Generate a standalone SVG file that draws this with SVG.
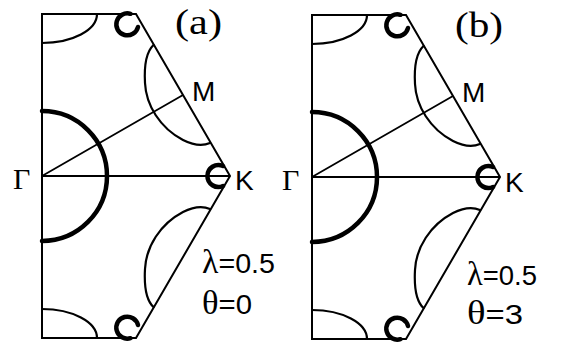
<svg xmlns="http://www.w3.org/2000/svg" width="568" height="350" viewBox="0 0 568 350">
<style>
.bz{fill:none;stroke:#000;stroke-width:2;stroke-linejoin:miter}
.ln{fill:none;stroke:#000;stroke-width:1.8}
.fs{fill:none;stroke:#000;stroke-width:2.2;stroke-linecap:round}
.fs2{fill:none;stroke:#000;stroke-width:4.5;stroke-linecap:round}
.sans{font-family:"Liberation Sans",Arial,sans-serif;font-size:28px;fill:#000}
.ser{font-family:"Liberation Serif","Times New Roman",serif;fill:#000}
.gr{font-size:33px}
</style>
<defs>
<g id="half">
<path class="fs" d="M153.5,45 C146,52 144,65 145,83 C146,105 160,128 183,140 C193,145 203,146 210,143"/>
<path class="fs" d="M42,43 A55,29 0 0 0 97,14"/>
<path class="fs2" d="M130.5,13.8 A11,11 0 1 0 138,27"/>
</g>
<g id="panel">
<path class="bz" d="M42,14 H136 L230,176 L136,338 H42 Z"/>
<path class="ln" d="M42,176 H230 M42,176 L183,95"/>
<use href="#half"/>
<use href="#half" transform="translate(0,352) scale(1,-1)"/>
<path class="fs2" d="M223,166 A11,11 0 1 0 223,186"/>
<path class="fs2" d="M42,111 A65,65 0 0 1 42,241"/>
</g>
</defs>
<g id="panel-a">
<use href="#panel"/>
<text class="ser" x="175" y="34" font-size="36" textLength="47" lengthAdjust="spacingAndGlyphs">(a)</text>
<text class="sans" x="192" y="101">M</text>
<text class="sans" x="235" y="190">K</text>
<text class="ser" x="13" y="189" font-size="30">Γ</text>
<text class="sans" x="202" y="273" font-size="29" textLength="73" lengthAdjust="spacingAndGlyphs"><tspan class="ser gr">λ</tspan>=0.5</text>
<text class="sans" x="202" y="314" font-size="29" textLength="50" lengthAdjust="spacingAndGlyphs"><tspan class="ser gr">θ</tspan>=0</text>
</g>
<g id="panel-b">
<use href="#panel" transform="translate(270,1)"/>
<text class="ser" x="455" y="37" font-size="36" textLength="48" lengthAdjust="spacingAndGlyphs">(b)</text>
<text class="sans" x="462" y="102">M</text>
<text class="sans" x="505" y="192">K</text>
<text class="ser" x="282" y="190" font-size="30">Γ</text>
<text class="sans" x="467" y="285" font-size="29" textLength="70" lengthAdjust="spacingAndGlyphs"><tspan class="ser gr">λ</tspan>=0.5</text>
<text class="sans" x="467" y="324" font-size="29" textLength="56" lengthAdjust="spacingAndGlyphs"><tspan class="ser gr">θ</tspan>=3</text>
</g>
</svg>
